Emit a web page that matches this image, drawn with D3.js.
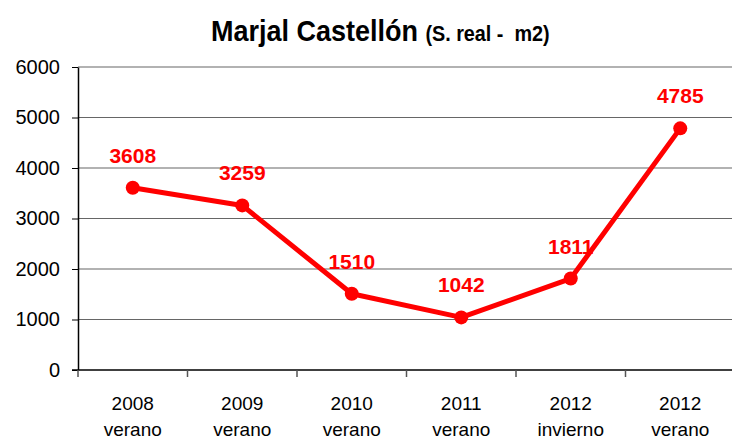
<!DOCTYPE html>
<html>
<head>
<meta charset="utf-8">
<script src="https://cdn.jsdelivr.net/npm/d3@7"></script>
<style>
  body { margin: 0; background: #fff; }
  svg { display: block; }
  svg text { font-family: "Liberation Sans", Arial, sans-serif; }
</style>
</head>
<body>
<div id="chart"></div>
<script>
// data
var years = ["2008", "2009", "2010", "2011", "2012", "2012"];
var seasons = ["verano", "verano", "verano", "verano", "invierno", "verano"];
var values = [3608, 3259, 1510, 1042, 1811, 4785];
var yTicks = [0, 1000, 2000, 3000, 4000, 5000, 6000];

var width = 732, height = 439;
var margin = { top: 67, right: -3, bottom: 69, left: 78 };

var svg = d3.select("#chart")
    .append("svg")
    .attr("width", width)
    .attr("height", height);

var x = d3.scaleBand()
    .domain(d3.range(values.length))
    .range([margin.left, width - margin.right]);

var y = d3.scaleLinear()
    .domain([0, 6000])
    .range([height - margin.bottom, margin.top]);

// gridlines
svg.append("g")
    .selectAll("line")
    .data(yTicks.slice(1))
    .enter()
    .append("line")
    .attr("x1", margin.left)
    .attr("x2", width - margin.right)
    .attr("y1", function(d) { return y(d); })
    .attr("y2", function(d) { return y(d); })
    .attr("stroke", "#666")
    .attr("stroke-width", 1.2);

// y axis
var yAxis = svg.append("g")
    .attr("transform", "translate(" + margin.left + ",0)")
    .call(d3.axisLeft(y).tickValues(yTicks).tickFormat(d3.format("d"))
        .tickSize(6).tickSizeOuter(0).tickPadding(12));
yAxis.attr("font-family", null).attr("font-size", null);
yAxis.select(".domain").attr("stroke", "#000").attr("stroke-width", 1.5);
yAxis.selectAll(".tick line").attr("stroke", "#000");
yAxis.selectAll("text")
    .attr("font-size", "20px")
    .attr("fill", "#000");

// x axis with ticks at band edges
var xAxis = svg.append("g")
    .attr("transform", "translate(0," + y(0) + ")");
xAxis.append("line")
    .attr("x1", margin.left - 6)
    .attr("x2", width)
    .attr("stroke", "#000")
    .attr("stroke-width", 1.5);
xAxis.selectAll("line.tk")
    .data(d3.range(values.length))
    .enter()
    .append("line")
    .attr("class", "tk")
    .attr("x1", function(i) { return x(i); })
    .attr("x2", function(i) { return x(i); })
    .attr("y1", 0)
    .attr("y2", 7)
    .attr("stroke", "#555")
    .attr("stroke-width", 1.5);

var lbl = xAxis.selectAll("text.cat")
    .data(d3.range(values.length))
    .enter()
    .append("text")
    .attr("class", "cat")
    .attr("text-anchor", "middle")
    .attr("font-size", "19px")
    .attr("fill", "#000");
lbl.append("tspan")
    .attr("x", function(i) { return x(i) + x.bandwidth() / 2; })
    .attr("y", 40)
    .text(function(i) { return years[i]; });
lbl.append("tspan")
    .attr("x", function(i) { return x(i) + x.bandwidth() / 2; })
    .attr("y", 66)
    .text(function(i) { return seasons[i]; });

// the series line
var line = d3.line()
    .x(function(d, i) { return x(i) + x.bandwidth() / 2; })
    .y(function(d) { return y(d); });

svg.append("path")
    .datum(values)
    .attr("d", line)
    .attr("fill", "none")
    .attr("stroke", "#ff0000")
    .attr("stroke-width", 5)
    .attr("stroke-linejoin", "round");

svg.selectAll("circle")
    .data(values)
    .enter()
    .append("circle")
    .attr("cx", function(d, i) { return x(i) + x.bandwidth() / 2; })
    .attr("cy", function(d) { return y(d); })
    .attr("r", 7)
    .attr("fill", "#ff0000");

// value labels
svg.selectAll("text.val")
    .data(values)
    .enter()
    .append("text")
    .attr("class", "val")
    .attr("x", function(d, i) { return x(i) + x.bandwidth() / 2; })
    .attr("y", function(d) { return y(d) - 25; })
    .attr("text-anchor", "middle")
    .attr("font-size", "21px")
    .attr("font-weight", "bold")
    .attr("fill", "#ff0000")
    .text(function(d) { return d; });

// title
var title = svg.append("text")
    .attr("transform", "translate(211,41) scale(0.9,1)")
    .attr("font-weight", "bold")
    .attr("fill", "#000");
title.append("tspan")
    .attr("font-size", "30px")
    .text("Marjal Castellón ");
title.append("tspan")
    .attr("font-size", "22px")
    .text("(S. real -\u00a0 m2)");
</script>
</body>
</html>
